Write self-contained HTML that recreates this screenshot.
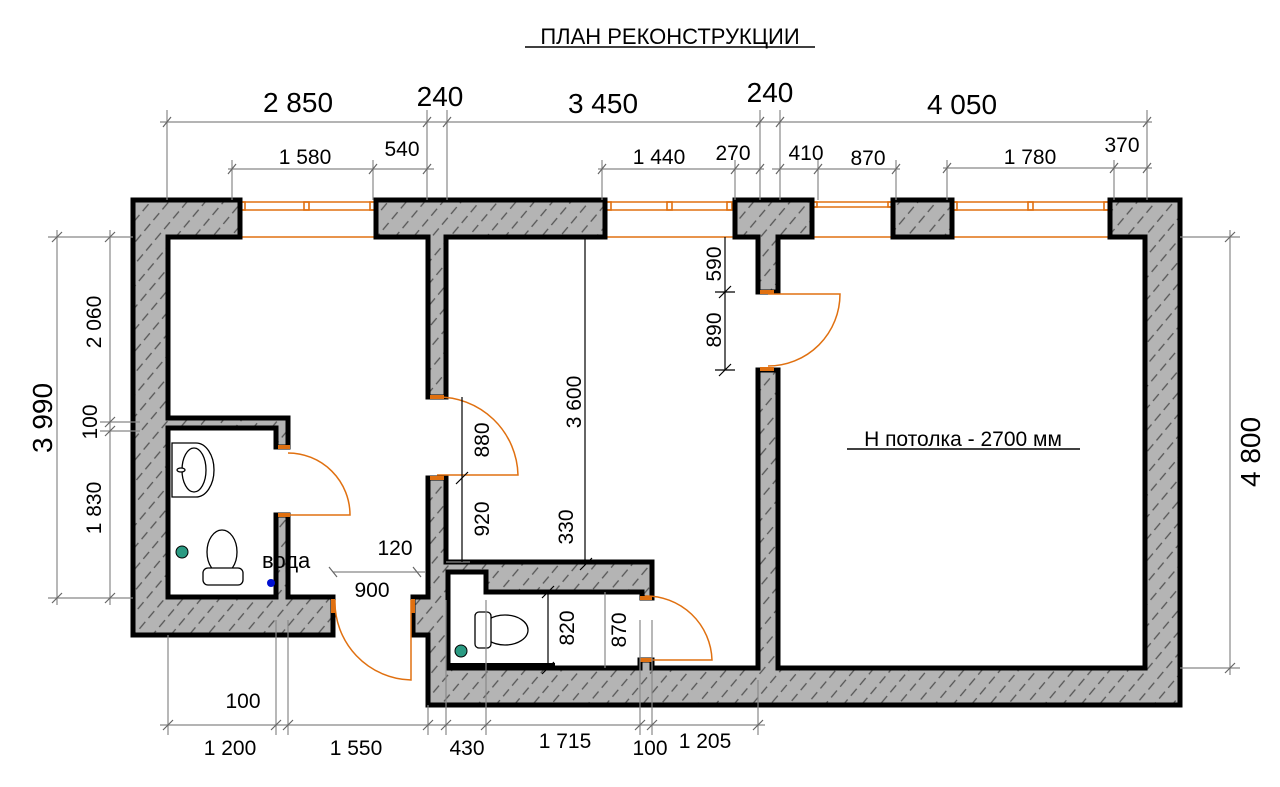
<!DOCTYPE html>
<html><head><meta charset="utf-8"><style>
html,body{margin:0;padding:0;background:#fff;}
svg{display:block;font-family:"Liberation Sans",Arial,sans-serif;}
</style></head><body>
<svg width="1280" height="787" viewBox="0 0 1280 787" xmlns="http://www.w3.org/2000/svg">
<defs>
<pattern id="h" width="14" height="14" patternUnits="userSpaceOnUse" patternTransform="rotate(-50)">
<rect width="14" height="14" fill="#b4b4b4"/>
<line x1="0" y1="7" x2="9" y2="7" stroke="#555" stroke-width="1.3"/>
</pattern>
</defs>
<rect width="1280" height="787" fill="#fff"/>

<text x="670" y="44" font-size="22" text-anchor="middle">ПЛАН РЕКОНСТРУКЦИИ</text>
<line x1="525" y1="47" x2="815" y2="47" stroke="#000" stroke-width="1.5"/>

<g stroke="#e07010" stroke-width="1.6" fill="none">
<line x1="240" y1="202" x2="376" y2="202"/><line x1="240" y1="210" x2="376" y2="210"/><line x1="240" y1="237" x2="376" y2="237"/>
<rect x="240" y="202" width="5" height="8"/><rect x="304" y="202" width="5" height="8"/><rect x="370" y="202" width="5" height="8"/>
<line x1="605" y1="202" x2="735" y2="202"/><line x1="605" y1="210" x2="735" y2="210"/><line x1="605" y1="237" x2="735" y2="237"/>
<rect x="606" y="202" width="5" height="8"/><rect x="667" y="202" width="5" height="8"/><rect x="727" y="202" width="5" height="8"/>
<line x1="812" y1="202" x2="893" y2="202"/><line x1="812" y1="207" x2="893" y2="207"/><line x1="812" y1="237" x2="893" y2="237"/>
<rect x="813" y="202" width="4" height="5"/><rect x="888" y="202" width="4" height="5"/>
<line x1="952" y1="202" x2="1110" y2="202"/><line x1="952" y1="210" x2="1110" y2="210"/><line x1="952" y1="237" x2="1110" y2="237"/>
<rect x="952" y="202" width="5" height="8"/><rect x="1028" y="202" width="5" height="8"/><rect x="1104" y="202" width="5" height="8"/>
</g>

<g fill="url(#h)" stroke="#000" stroke-width="5" stroke-linejoin="miter">
<polygon points="133,200 240,200 240,237 168,237 168,418 288,418 288,447 276,447 276,428 168,428 168,597 276,597 276,515 288,515 288,597 333,597 333,635 133,635"/>
<polygon points="376,200 605,200 605,237 446,237 446,397 428,397 428,237 376,237"/>
<polygon points="735,200 812,200 812,237 778,237 778,292 758,292 758,237 735,237"/>
<polygon points="893,200 952,200 952,237 893,237"/>
<polygon points="428,478 446,478 446,562 652,562 652,598 642,598 642,592 486,592 486,572 448,572 448,668 640,668 640,660 652,660 652,668 758,668 758,370 778,370 778,668 1145,668 1145,237 1110,237 1110,200 1180,200 1180,705 428,705 428,635 413,635 413,597 428,597"/>
</g>
<line x1="448" y1="666" x2="555" y2="666" stroke="#000" stroke-width="6"/>

<g stroke="#e07010" stroke-width="1.5" fill="none">
<path d="M288,515 L350,515 A62,62 0 0 0 288,453"/>
<path d="M437,475 L518,475 A80,80 0 0 0 437,397"/>
<path d="M768,294 L840,294 A72,72 0 0 1 768,366"/>
<path d="M411,600 L411,680 A78,78 0 0 1 335,600"/>
<path d="M645,660 L712,660 A66,66 0 0 0 645,596"/>
</g>
<g fill="#e07010">
<rect x="278" y="445" width="12" height="4"/><rect x="278" y="513" width="12" height="4"/>
<rect x="430" y="395" width="14" height="4"/><rect x="430" y="476" width="14" height="4"/>
<rect x="760" y="290" width="14" height="4"/><rect x="760" y="367" width="14" height="4"/>
<rect x="331" y="599" width="4" height="14"/><rect x="411" y="599" width="4" height="14"/>
<rect x="640" y="596" width="12" height="4"/><rect x="640" y="658" width="12" height="4"/>
</g>

<g stroke="#000" stroke-width="1.3" fill="#fff">
<path d="M172,443 L196,443 A18,27 0 0 1 196,497 L172,497 Z"/>
<ellipse cx="194" cy="470" rx="12" ry="22"/>
<ellipse cx="181" cy="470" rx="4" ry="2"/>
<ellipse cx="222" cy="552" rx="15" ry="22"/>
<rect x="203" y="568" width="40" height="17" rx="5"/>
<ellipse cx="505" cy="630" rx="23" ry="15"/>
<rect x="475" y="612" width="16" height="36" rx="4"/>
</g>
<circle cx="182" cy="552" r="6" fill="#2a9a82" stroke="#000"/>
<circle cx="461" cy="651" r="6" fill="#2a9a82" stroke="#000"/>
<circle cx="271" cy="583" r="4" fill="#0010d0"/>
<text x="262" y="568" font-size="22">вода</text>

<g stroke="#888" stroke-width="1.2">
<line x1="160" y1="122" x2="1152" y2="122"/>
<line x1="167" y1="110" x2="167" y2="200"/><line x1="427" y1="110" x2="427" y2="200"/><line x1="447" y1="110" x2="447" y2="200"/>
<line x1="760" y1="110" x2="760" y2="200"/><line x1="780" y1="110" x2="780" y2="200"/><line x1="1147" y1="110" x2="1147" y2="200"/>
<line x1="228" y1="169" x2="434" y2="169"/><line x1="598" y1="169" x2="764" y2="169"/><line x1="772" y1="169" x2="900" y2="169"/><line x1="943" y1="168" x2="1152" y2="168"/>
<line x1="232" y1="160" x2="232" y2="200"/><line x1="373" y1="160" x2="373" y2="200"/>
<line x1="602" y1="160" x2="602" y2="200"/><line x1="735" y1="160" x2="735" y2="200"/>
<line x1="818" y1="160" x2="818" y2="200"/><line x1="896" y1="160" x2="896" y2="200"/>
<line x1="947" y1="160" x2="947" y2="200"/><line x1="1114" y1="160" x2="1114" y2="200"/>
<line x1="57" y1="230" x2="57" y2="605"/><line x1="110" y1="230" x2="110" y2="605"/>
<line x1="48" y1="237" x2="133" y2="237"/><line x1="48" y1="598" x2="133" y2="598"/>
<line x1="100" y1="422" x2="140" y2="422"/><line x1="100" y1="431" x2="140" y2="431"/>
<line x1="1230" y1="230" x2="1230" y2="675"/>
<line x1="1180" y1="237" x2="1240" y2="237"/><line x1="1180" y1="668" x2="1240" y2="668"/>
<line x1="160" y1="725" x2="765" y2="725"/>
<line x1="168" y1="635" x2="168" y2="735"/><line x1="276" y1="620" x2="276" y2="735"/><line x1="288" y1="620" x2="288" y2="735"/>
<line x1="428" y1="705" x2="428" y2="735"/><line x1="446" y1="600" x2="446" y2="735"/><line x1="486" y1="600" x2="486" y2="735"/>
<line x1="640" y1="620" x2="640" y2="735"/><line x1="652" y1="620" x2="652" y2="735"/><line x1="758" y1="680" x2="758" y2="735"/>
<line x1="333" y1="572" x2="425" y2="572"/>
<line x1="605" y1="592" x2="605" y2="668"/>
<line x1="446" y1="562" x2="470" y2="562"/>
</g>
<g stroke="#666" stroke-width="1.2">
<path d="M163,127l8,-10M423,127l8,-10M443,127l8,-10M756,127l8,-10M776,127l8,-10M1143,127l8,-10
M228,174l8,-10M369,174l8,-10M423,174l8,-10M598,174l8,-10M731,174l8,-10M756,174l8,-10M776,174l8,-10M814,174l8,-10M892,174l8,-10M943,173l8,-10M1110,173l8,-10M1143,173l8,-10
M52,242l10,-10M105,242l10,-10M52,603l10,-10M105,603l10,-10M105,427l10,-10M105,436l10,-10M1225,242l10,-10M1225,673l10,-10
M163,730l10,-10M271,730l10,-10M283,730l10,-10M423,730l10,-10M441,730l10,-10M481,730l10,-10M635,730l10,-10M647,730l10,-10M753,730l10,-10
M337,577l-8,-10M421,577l-8,-10"/>
</g>
<g stroke="#000" stroke-width="1.2">
<line x1="585" y1="237" x2="585" y2="565"/>
<line x1="462" y1="397" x2="462" y2="562"/>
<line x1="725" y1="237" x2="725" y2="370"/>
<line x1="548" y1="592" x2="548" y2="668"/>
<path d="M715,292h20M715,370h20M719,298l12,-12M719,376l12,-12M456,484l12,-12M580,570l12,-12M542,598l12,-12M542,674l12,-12"/>
</g>

<g font-size="28" text-anchor="middle">
<text x="298" y="112">2 850</text><text x="440" y="106">240</text><text x="603" y="113">3 450</text>
<text x="770" y="102">240</text><text x="962" y="114">4 050</text>
<text transform="translate(52,418) rotate(-90)">3 990</text>
<text transform="translate(1260,452) rotate(-90)">4 800</text>
</g>
<g font-size="21" text-anchor="middle">
<text x="305" y="164">1 580</text><text x="402" y="156">540</text>
<text x="659" y="164">1 440</text><text x="733" y="160">270</text><text x="806" y="160">410</text><text x="868" y="165">870</text>
<text x="1030" y="164">1 780</text><text x="1122" y="152">370</text>
<text transform="translate(101,322) rotate(-90)">2 060</text>
<text transform="translate(97,422) rotate(-90)">100</text>
<text transform="translate(101,508) rotate(-90)">1 830</text>
<text transform="translate(581,402) rotate(-90)">3 600</text>
<text transform="translate(573,527) rotate(-90)">330</text>
<text transform="translate(489,440) rotate(-90)">880</text>
<text transform="translate(489,519) rotate(-90)">920</text>
<text transform="translate(721,264) rotate(-90)">590</text>
<text transform="translate(721,330) rotate(-90)">890</text>
<text transform="translate(574,628) rotate(-90)">820</text>
<text transform="translate(626,630) rotate(-90)">870</text>
<text x="395" y="555">120</text><text x="372" y="597">900</text>
<text x="243" y="708">100</text>
<text x="230" y="755">1 200</text><text x="356" y="755">1 550</text><text x="467" y="755">430</text>
<text x="565" y="748">1 715</text><text x="650" y="755">100</text><text x="705" y="748">1 205</text>
<text x="963" y="446">Н потолка - 2700 мм</text>
</g>
<line x1="847" y1="449" x2="1080" y2="449" stroke="#000" stroke-width="1.5"/>
</svg>
</body></html>
